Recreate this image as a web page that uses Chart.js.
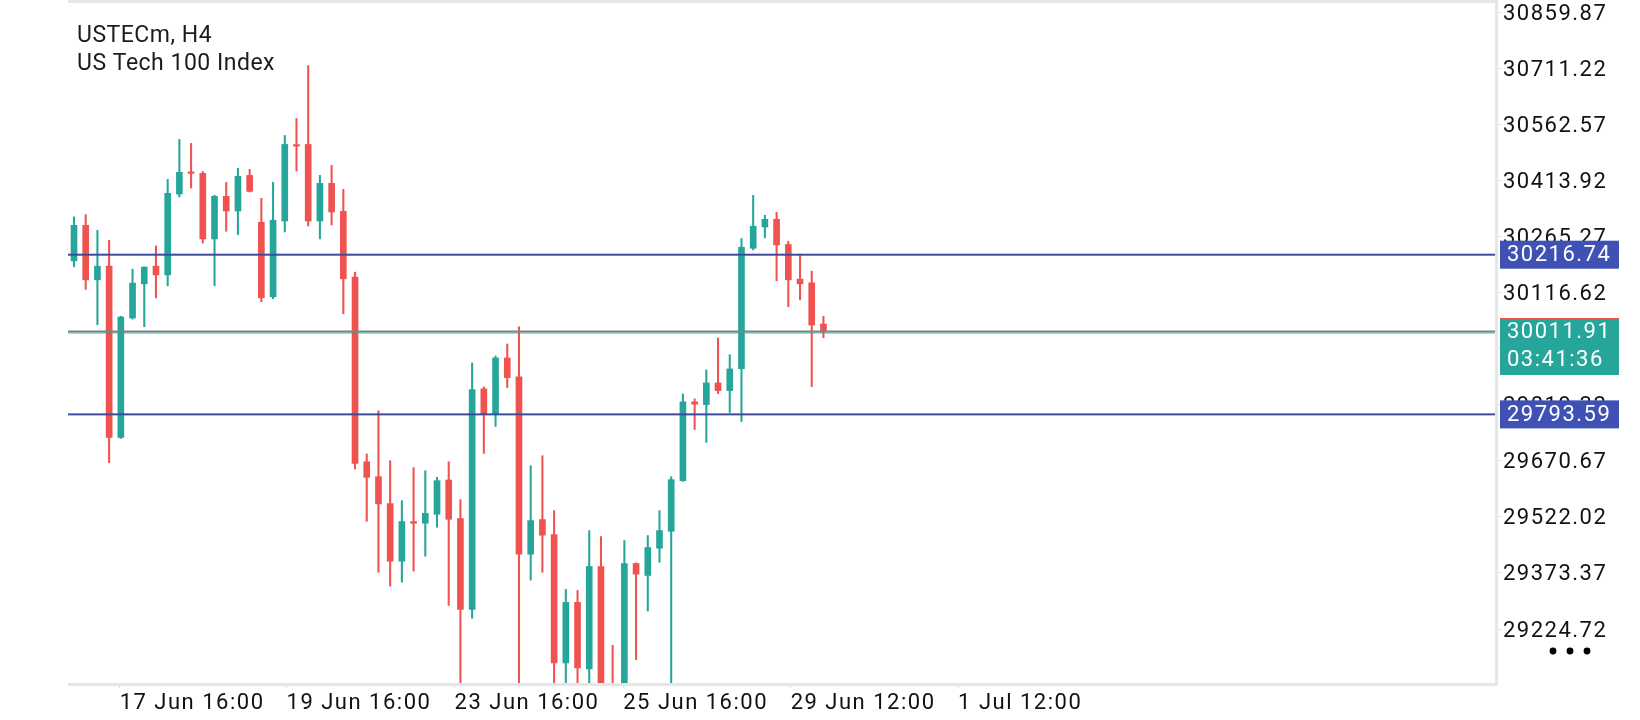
<!DOCTYPE html>
<html>
<head>
<meta charset="utf-8">
<title>USTECm, H4</title>
<script src="https://cdn.jsdelivr.net/npm/chart.js@4.4.1/dist/chart.umd.min.js"></script>
<style>
  html, body { margin: 0; padding: 0; background: #fff; }
  #wrap { width: 1640px; height: 720px; position: relative; }
</style>
</head>
<body>
<div id="wrap"><canvas id="chart"></canvas></div>
<script>
// --- data ---
const SYMBOL = "USTECm, H4";
const DESCRIPTION = "US Tech 100 Index";

const OPEN = [30200.4, 30294.7, 30150.1, 30186.3, 29732.4, 30048.9, 30139.5, 30186.3, 30163.3, 30377.5,
  30434.9, 30432.2, 30258.5, 30371.4, 30332.6, 30426.9, 30302.7, 30105.2, 30306.1, 30508.1,
  30508.9, 30306.1, 30405.8, 30331.8, 30157.3, 29668.1, 29628.5, 29557.1, 29404.5, 29509.5,
  29505.0, 29528.8, 29619.7, 29517.4, 29276.8, 29861.1, 29794.2, 29943.1, 29892.9, 29423.0,
  29514.8, 29475.1, 29134.8, 29295.3, 29119.0, 29390.5, 29075.0, 29045.0, 29398.4, 29366.7,
  29438.9, 29483.8, 29617.9, 29826.8, 29819.6, 29877.0, 29856.6, 29914.8, 30233.9, 30290.2,
  30310.6, 30243.7, 30152.0, 30142.2, 30033.0];
const HIGH = [30316.7, 30323.0, 30281.5, 30255.1, 30053.5, 30178.4, 30184.5, 30240.0, 30416.4, 30522.1,
  30511.6, 30437.5, 30374.1, 30408.4, 30445.5, 30442.8, 30366.1, 30408.4, 30532.7, 30577.7,
  30717.8, 30426.9, 30453.4, 30389.9, 30170.5, 29688.5, 29803.0, 29670.8, 29565.0, 29652.3,
  29644.3, 29626.6, 29668.1, 29567.6, 29929.9, 29866.4, 29948.4, 29980.1, 30025.9, 29657.5,
  29684.0, 29538.6, 29329.7, 29327.0, 29485.7, 29469.8, 29181.6, 29459.2, 29400.0, 29472.5,
  29538.6, 29628.5, 29847.9, 29834.7, 29911.4, 29996.0, 29951.8, 30259.6, 30374.1, 30321.2,
  30329.1, 30252.4, 30214.6, 30173.1, 30053.4];
const LOW = [30184.5, 30124.7, 30031.1, 29665.5, 29730.0, 30046.0, 30025.9, 30102.5, 30134.3, 30369.6,
  30393.4, 30247.9, 30134.3, 30278.9, 30270.1, 30382.8, 30091.9, 30099.9, 30277.0, 30438.3,
  30292.9, 30258.5, 30295.5, 30060.2, 29648.8, 29510.3, 29375.4, 29338.4, 29349.0, 29378.1,
  29417.7, 29494.4, 29287.4, 29060.0, 29253.8, 29690.1, 29761.5, 29864.6, 29050.0, 29354.3,
  29375.4, 29060.0, 29050.0, 29040.0, 29050.0, 29020.0, 29010.0, 29000.0, 29143.8, 29272.3,
  29401.9, 29050.0, 29616.0, 29753.5, 29719.1, 29848.7, 29798.5, 29774.7, 30229.4, 30261.2,
  30147.5, 30078.7, 30097.2, 29867.2, 29996.8];
const CLOSE = [30294.7, 30150.1, 30186.3, 29732.4, 30051.5, 30141.4, 30183.7, 30163.3, 30379.4, 30434.9,
  30432.2, 30258.5, 30371.4, 30332.6, 30424.3, 30384.6, 30102.5, 30308.0, 30508.9, 30504.4,
  30306.1, 30405.8, 30329.9, 30152.8, 29663.6, 29626.6, 29556.3, 29404.5, 29509.5, 29505.0,
  29531.4, 29617.9, 29515.6, 29276.8, 29859.3, 29794.2, 29943.1, 29891.0, 29423.0, 29512.1,
  29473.3, 29134.8, 29295.3, 29121.6, 29390.5, 29050.0, 29045.0, 29398.4, 29370.1, 29440.7,
  29485.7, 29620.5, 29826.8, 29820.7, 29877.0, 29856.6, 29914.0, 30236.6, 30292.1, 30310.6,
  30242.7, 30150.1, 30139.5, 30030.3, 30011.91];

const Y_TICKS = [30859.87, 30711.22, 30562.57, 30413.92, 30265.27, 30116.62,
  29967.97, 29819.32, 29670.67, 29522.02, 29373.37, 29224.72];
const X_TICK_POS = [3.9, 18.15, 32.5, 46.9, 61.2, 75.5];
const X_TICK_LABELS = ["17 Jun 16:00", "19 Jun 16:00", "23 Jun 16:00", "25 Jun 16:00", "29 Jun 12:00", "1 Jul 12:00"];

const LEVELS = [30216.74, 29793.59];
const BID = 30011.91;
const TIMER = "03:41:36";

// --- style ---
const UP = "#26a69a";
const DOWN = "#ef5350";
const PRICE_LINE = "rgb(136,128,120)";
const LEVEL_LINE = "#3c4b9e";
const LEVEL_BOX = "#3f51b5";
const FONT = "Roboto";
const FRAME = "#e6e6e6";

(function () {
  "use strict";

  const colors = OPEN.map((o, i) => (CLOSE[i] >= o ? UP : DOWN));
  const wicks = OPEN.map((o, i) => ({ x: i, y: [LOW[i], HIGH[i]] }));
  const bodies = OPEN.map((o, i) => ({ x: i, y: [o, CLOSE[i]] }));

  // no extra room for half labels: the plot runs edge to edge like the app
  const noPad = (s) => {
    s.paddingTop = 0;
    s.paddingBottom = 0;
    s.paddingLeft = 0;
    s.paddingRight = 0;
  };

  const chrome = {
    id: "chrome",
    beforeDraw(chart) {
      chart.ctx.letterSpacing = "1.5px";
    },
    afterDatasetsDraw(chart) {
      const ctx = chart.ctx, a = chart.chartArea, ys = chart.scales.y;
      ctx.save();
      LEVELS.forEach((v) => {
        const y = ys.getPixelForValue(v);
        ctx.fillStyle = LEVEL_LINE;
        ctx.fillRect(a.left, y - 1, a.right - a.left, 2);
      });
      const yb = ys.getPixelForValue(BID);
      ctx.fillStyle = PRICE_LINE;
      ctx.fillRect(a.left, yb - 1.5, a.right - a.left, 2);
      ctx.fillStyle = UP;
      ctx.globalAlpha = 0.8;
      ctx.fillRect(a.left, yb + 0.5, a.right - a.left, 1);
      ctx.restore();
    },
    afterDraw(chart) {
      const ctx = chart.ctx, a = chart.chartArea, ys = chart.scales.y;
      ctx.save();
      // frame
      ctx.fillStyle = FRAME;
      ctx.fillRect(a.left, 0, a.right - a.left + 1, 3);
      ctx.fillRect(a.left, a.bottom, a.right - a.left + 1, 3);
      ctx.fillRect(a.right - 2, 0, 3, a.bottom + 3);

      // price labels on the axis
      ctx.letterSpacing = "1.5px";
      ctx.font = "22px " + FONT;
      ctx.textAlign = "left";
      ctx.textBaseline = "middle";
      const bx = a.right + 3, bw = 119;
      LEVELS.forEach((v) => {
        const y = ys.getPixelForValue(v);
        ctx.fillStyle = LEVEL_BOX;
        ctx.fillRect(bx, y - 14, bw, 28);
        ctx.fillStyle = "#fff";
        ctx.fillText(v.toFixed(2), bx + 7, y + 1);
      });
      const yb = ys.getPixelForValue(BID);
      ctx.fillStyle = UP;
      ctx.fillRect(bx, yb - 14, bw, 57);
      ctx.fillStyle = DOWN;
      ctx.fillRect(bx, yb - 14, bw, 1.5);
      ctx.fillStyle = "#fff";
      ctx.fillText(BID.toFixed(2), bx + 7, yb + 1);
      ctx.fillText(TIMER, bx + 7, yb + 29);

      // header
      ctx.letterSpacing = "0.5px";
      ctx.font = "23px " + FONT;
      ctx.fillStyle = "#1c1c1c";
      ctx.textBaseline = "alphabetic";
      ctx.fillText(SYMBOL, 77, 42);
      ctx.fillText(DESCRIPTION, 77, 70);

      // menu dots
      ctx.fillStyle = "#000";
      [1553, 1570, 1587].forEach((x) => {
        ctx.beginPath();
        ctx.arc(x, 651, 3.4, 0, Math.PI * 2);
        ctx.fill();
      });
      ctx.restore();
    },
  };

  new Chart(document.getElementById("chart"), {
    type: "bar",
    data: {
      datasets: [
        {
          label: "body",
          data: bodies,
          backgroundColor: colors,
          barThickness: 6,
          minBarLength: 1.5,
          grouped: false,
          borderWidth: 0,
          order: 1,
        },
        {
          label: "wick",
          data: wicks,
          backgroundColor: colors,
          barThickness: 1.4,
          grouped: false,
          borderWidth: 0,
          order: 2,
        },
      ],
    },
    options: {
      responsive: true,
      maintainAspectRatio: false,
      animation: false,
      devicePixelRatio: 1,
      layout: { padding: { left: 68, top: 2, right: 0, bottom: 0 } },
      plugins: { legend: { display: false }, tooltip: { enabled: false } },
      scales: {
        x: {
          type: "linear",
          min: -0.512,
          max: 121.52,
          offset: false,
          afterFit: (s) => { s.height = 37; noPad(s); },
          afterBuildTicks: (s) => { s.ticks = X_TICK_POS.map((v) => ({ value: v })); },
          grid: { drawOnChartArea: false, drawTicks: true, tickLength: 5, tickColor: "#dcdcdc", offset: false },
          border: { display: false },
          ticks: {
            align: "start",
            autoSkip: false,
            maxRotation: 0,
            padding: 2,
            color: "#111",
            font: { family: FONT, size: 22 },
            callback: (v, i) => X_TICK_LABELS[i],
          },
        },
        y: {
          position: "right",
          min: 29081.7,
          max: 30886.4,
          afterFit: (s) => { s.width = 143; noPad(s); },
          afterBuildTicks: (s) => { s.ticks = Y_TICKS.map((v) => ({ value: v })); },
          grid: { drawOnChartArea: false, drawTicks: true, tickLength: 4, tickColor: "#dcdcdc" },
          border: { display: false },
          ticks: {
            autoSkip: false,
            padding: 2,
            labelOffset: 2,
            color: "#111",
            font: { family: FONT, size: 22 },
            callback: (v) => Number(v).toFixed(2),
          },
        },
      },
    },
    plugins: [chrome],
  });
})();
</script>
</body>
</html>
